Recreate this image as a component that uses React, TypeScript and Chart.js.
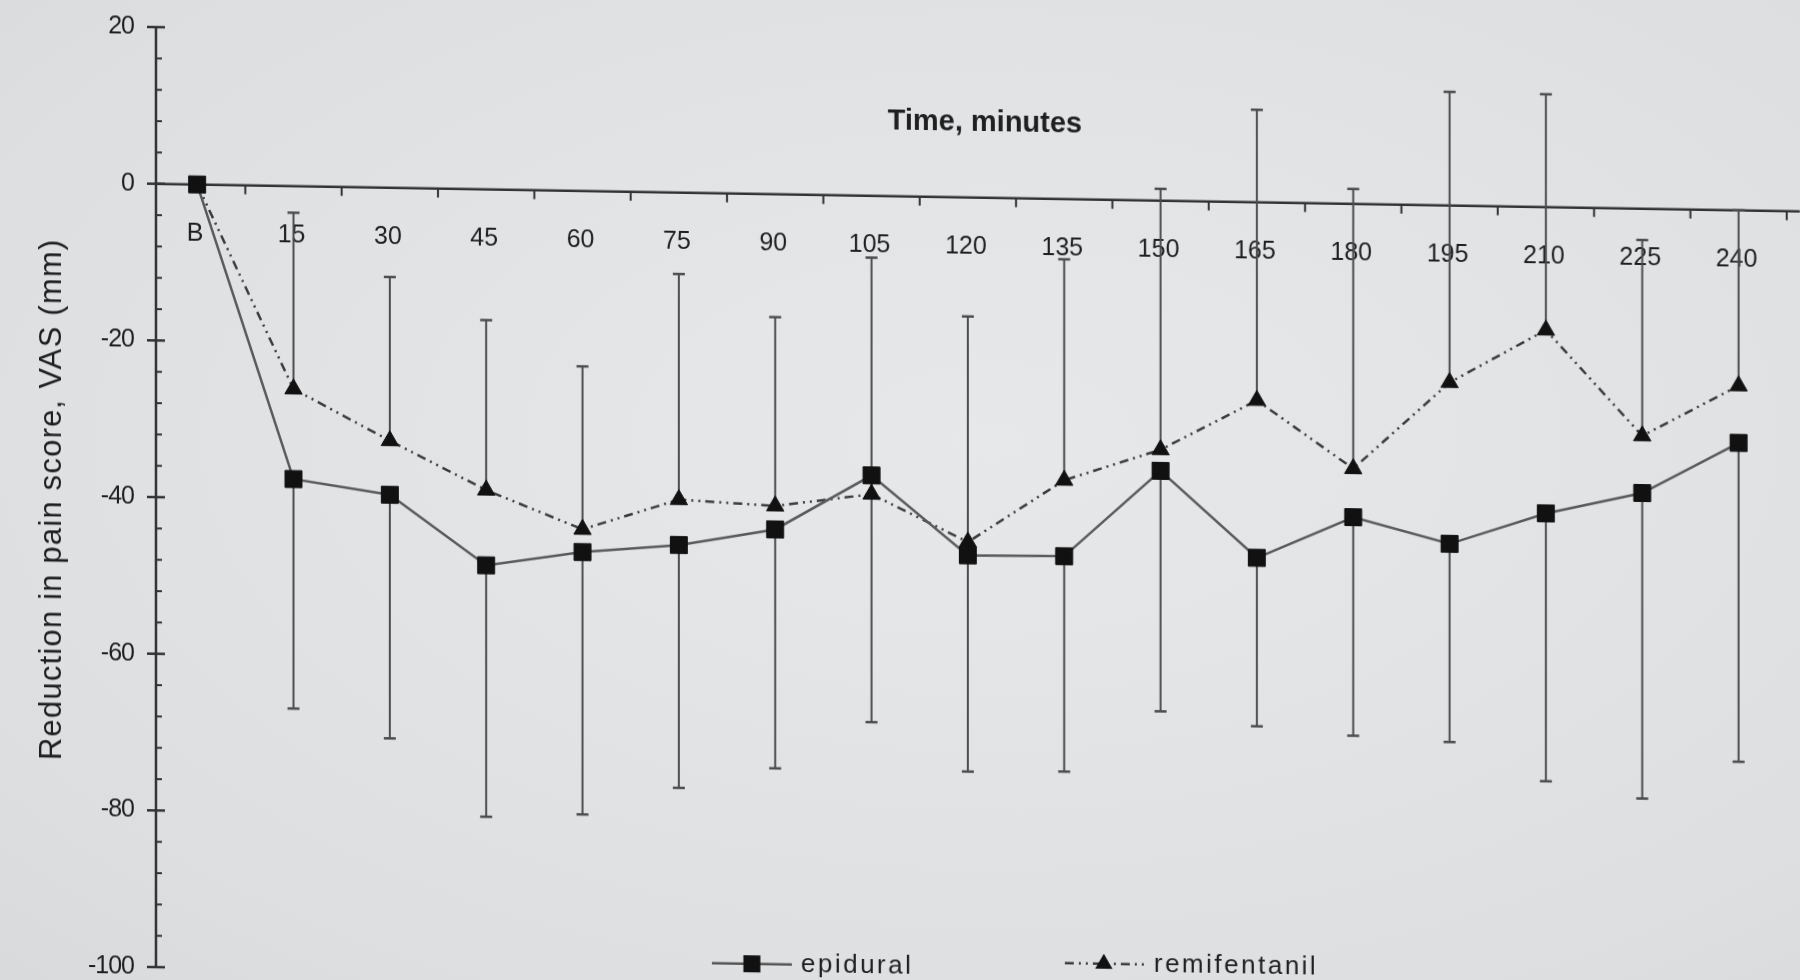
import React, { useEffect, useRef } from "react";
import { Chart, registerables } from "chart.js";

Chart.register(...registerables);

// Time points (minutes after baseline B)
const timeLabels = ["B", "15", "30", "45", "60", "75", "90", "105", "120", "135", "150", "165", "180", "195", "210", "225", "240"];

// Mean reduction in VAS pain score (mm)
const epiduralMean = [0, -37.4, -39.2, -48.0, -46.1, -45.0, -42.8, -35.7, -45.7, -45.6, -34.5, -45.4, -40.0, -43.2, -39.1, -36.3, -29.7];
const remifentanilMean = [0, -25.9, -32.3, -38.4, -43.2, -39.2, -39.8, -38.1, -44.0, -35.9, -31.8, -25.3, -33.8, -22.6, -15.7, -29.0, -22.4];

// Whisker ends: epidural drawn downward, remifentanil drawn upward
const epiduralLowerEnd = [null, -66.7, -70.3, -80.1, -79.6, -76.0, -73.3, -67.2, -73.3, -73.1, -65.2, -66.9, -67.9, -68.5, -73.3, -75.3, -70.4];
const remifentanilUpperEnd = [null, -3.4, -11.4, -16.7, -22.4, -10.4, -15.7, -7.9, -15.2, -7.7, 1.5, 11.8, 1.9, 14.5, 14.4, -4.0, 0];

// Y axis
const yTickValues = [20, 0, -20, -40, -60, -80, -100];
const yTickLabels = ["20", "0", "-20", "-40", "-60", "-80", "-100"];
const yMin = -100;
const yMax = 20;
const yMinorStep = 4;

const xTitle = "Time, minutes";
const yTitle = "Reduction in pain score, VAS (mm)";
const legendNames = ["epidural", "remifentanil"];

const FONT = "'Liberation Sans', Arial, Helvetica, sans-serif";
const INK = "#1f1f1f";
const AXIS = "#333333";
const BAR = "#4d4d4d";
const DASH = [9, 5, 2, 5, 2, 5];
const SHEAR = 0.0168;

const paperAxes = {
  id: "paperAxes",
  beforeDatasetsDraw(chart: any) {
    const { ctx, chartArea, scales } = chart;
    const xs = scales.x;
    const ys = scales.y;
    const x0 = chartArea.left + 7;
    const y0 = ys.getPixelForValue(0);
    const step = xs.getPixelForValue(1) - xs.getPixelForValue(0);

    ctx.save();

    // category labels under the zero line
    ctx.font = `25px ${FONT}`;
    ctx.fillStyle = INK;
    ctx.textAlign = "center";
    ctx.textBaseline = "middle";
    timeLabels.forEach((t, i) => ctx.fillText(t, xs.getPixelForValue(i) - 2, y0 + 49));

    // vertical axis with major and minor ticks
    ctx.strokeStyle = AXIS;
    ctx.lineCap = "butt";
    ctx.lineWidth = 2.5;
    ctx.beginPath();
    ctx.moveTo(x0, ys.getPixelForValue(yMax));
    ctx.lineTo(x0, ys.getPixelForValue(yMin));
    ctx.stroke();
    for (let v = yMin; v <= yMax; v += yMinorStep) {
      const py = ys.getPixelForValue(v);
      ctx.beginPath();
      if (v % 20 === 0) {
        ctx.lineWidth = 2.5;
        ctx.moveTo(x0 - 9, py);
        ctx.lineTo(x0 + 9, py);
      } else {
        ctx.lineWidth = 2;
        ctx.moveTo(x0, py);
        ctx.lineTo(x0 + 6, py);
      }
      ctx.stroke();
    }

    // vertical axis labels
    ctx.textAlign = "right";
    ctx.font = `25px ${FONT}`;
    (ctx as any).letterSpacing = "-1px";
    yTickValues.forEach((v, i) => ctx.fillText(yTickLabels[i], x0 - 22, ys.getPixelForValue(v)));
    (ctx as any).letterSpacing = "0px";

    // horizontal axis along zero with ticks between categories
    ctx.lineWidth = 2.5;
    ctx.beginPath();
    ctx.moveTo(x0, y0);
    ctx.lineTo(chart.width + 40, y0);
    ctx.stroke();
    ctx.lineWidth = 2;
    for (let i = 0; i < timeLabels.length; i++) {
      const xm = xs.getPixelForValue(i) + step / 2;
      ctx.beginPath();
      ctx.moveTo(xm, y0);
      ctx.lineTo(xm, y0 + 9);
      ctx.stroke();
    }

    // whiskers
    ctx.strokeStyle = BAR;
    const whisker = (i: number, from: number, to: number) => {
      const px = xs.getPixelForValue(i);
      const pa = ys.getPixelForValue(from);
      const pb = ys.getPixelForValue(to);
      ctx.lineWidth = 2;
      ctx.beginPath();
      ctx.moveTo(px, pa);
      ctx.lineTo(px, pb);
      ctx.stroke();
      ctx.lineWidth = 2.5;
      ctx.beginPath();
      ctx.moveTo(px - 6, pb);
      ctx.lineTo(px + 6, pb);
      ctx.stroke();
    };
    epiduralLowerEnd.forEach((v, i) => {
      if (v !== null) whisker(i, epiduralMean[i], v);
    });
    remifentanilUpperEnd.forEach((v, i) => {
      if (v !== null) whisker(i, remifentanilMean[i], v);
    });

    ctx.restore();
  },
  afterDraw(chart: any) {
    const { ctx } = chart;
    const ox = chart.chartArea.left;
    ctx.save();
    ctx.fillStyle = INK;
    ctx.textBaseline = "middle";

    // axis titles
    ctx.font = `bold 29px ${FONT}`;
    ctx.textAlign = "center";
    ctx.fillText(xTitle, 985, 109);

    ctx.save();
    ctx.translate(52, 501);
    ctx.rotate(-Math.PI / 2);
    ctx.font = `31px ${FONT}`;
    (ctx as any).letterSpacing = "1.2px";
    ctx.fillText(yTitle, 0, 0);
    ctx.restore();

    // legend, kept level on the page
    const baseY = 964;
    const ly1 = baseY - SHEAR * (760 - ox);
    const ly2 = baseY - SHEAR * (1110 - ox);

    ctx.strokeStyle = "#555555";
    ctx.lineWidth = 2.5;
    ctx.beginPath();
    ctx.moveTo(712, ly1);
    ctx.lineTo(792, ly1);
    ctx.stroke();
    ctx.fillStyle = "#111111";
    ctx.fillRect(752 - 8.5, ly1 - 8.5, 17, 17);

    ctx.strokeStyle = "#3c3c3c";
    ctx.setLineDash(DASH);
    ctx.beginPath();
    ctx.moveTo(1065, ly2);
    ctx.lineTo(1148, ly2);
    ctx.stroke();
    ctx.setLineDash([]);
    const tx = 1104;
    const r = 10;
    ctx.beginPath();
    ctx.moveTo(tx, ly2 - r);
    ctx.lineTo(tx + r * 0.866, ly2 + r / 2);
    ctx.lineTo(tx - r * 0.866, ly2 + r / 2);
    ctx.closePath();
    ctx.fill();

    ctx.fillStyle = INK;
    ctx.textAlign = "left";
    ctx.font = `26px ${FONT}`;
    (ctx as any).letterSpacing = "2.5px";
    ctx.fillText(legendNames[0], 801, ly1);
    ctx.fillText(legendNames[1], 1154, ly2);
    ctx.restore();
  },
};

export default function App() {
  const canvasRef = useRef<HTMLCanvasElement | null>(null);

  useEffect(() => {
    const canvas = canvasRef.current;
    if (!canvas) return;
    const chart = new Chart(canvas, {
      type: "line",
      data: {
        labels: timeLabels,
        datasets: [
          {
            label: legendNames[0],
            data: epiduralMean,
            borderColor: "#5a5a5a",
            borderWidth: 2.5,
            tension: 0,
            pointStyle: "rect",
            pointRadius: 12,
            pointBackgroundColor: "#111111",
            pointBorderColor: "#111111",
            pointBorderWidth: 1,
            clip: false,
          },
          {
            label: legendNames[1],
            data: remifentanilMean,
            borderColor: "#3c3c3c",
            borderWidth: 2.5,
            borderDash: DASH,
            tension: 0,
            pointStyle: "triangle",
            pointRadius: (c: any) => (c.dataIndex === 0 ? 0 : 10),
            pointBackgroundColor: "#111111",
            pointBorderColor: "#111111",
            pointBorderWidth: 1,
            clip: false,
          },
        ],
      },
      options: {
        responsive: false,
        animation: false,
        devicePixelRatio: 1,
        layout: { padding: { left: 149, right: 1, top: 27, bottom: 13 } },
        plugins: { legend: { display: false }, tooltip: { enabled: false }, title: { display: false } },
        scales: {
          x: { type: "category", offset: true, display: false },
          y: { type: "linear", min: yMin, max: yMax, display: false },
        },
      },
      plugins: [paperAxes],
    } as any);
    return () => chart.destroy();
  }, []);

  return (
    <div
      style={{
        position: "fixed",
        left: 0,
        top: 0,
        width: 1800,
        height: 980,
        overflow: "hidden",
        background: "radial-gradient(ellipse at 55% 45%, #e7e8ea 0%, #dfe0e2 70%, #d8dadc 100%)",
      }}
    >
      <canvas
        ref={canvasRef}
        width={1800}
        height={980}
        style={{ display: "block", transform: "skewY(0.96deg)", transformOrigin: "149px 184px" }}
      />
    </div>
  );
}
